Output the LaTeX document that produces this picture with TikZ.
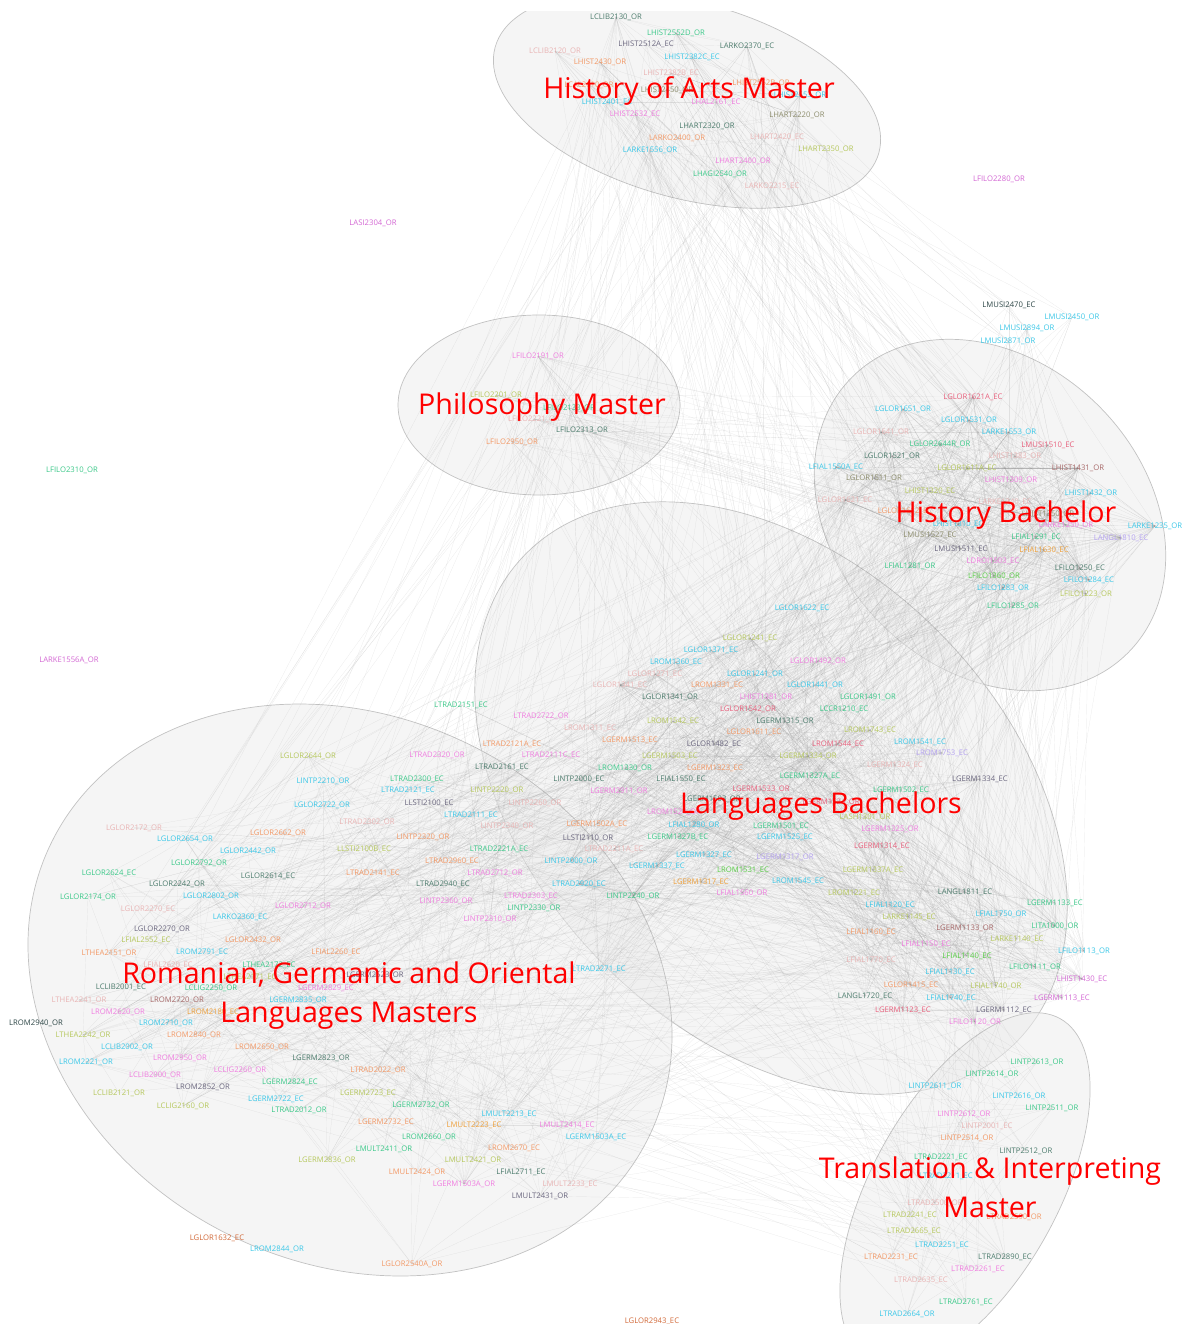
\documentclass[tikz,border=0pt]{standalone}
\usepackage{fontspec}
\newfontfamily\labfont{Open Sans}
\newfontfamily\ttlfont{Open Sans}
\pgfdeclarelayer{ell}
\pgfdeclarelayer{edges}
\pgfdeclarelayer{titles}
\pgfsetlayers{ell,edges,main,titles}
\definecolor{cA}{HTML}{4E7D6E}
\definecolor{cG}{HTML}{3DC98A}
\definecolor{cS}{HTML}{6C6880}
\definecolor{cR}{HTML}{E9B5B5}
\definecolor{cO}{HTML}{F39A68}
\definecolor{cC}{HTML}{3CC8E8}
\definecolor{cP}{HTML}{F07FE0}
\definecolor{cV}{HTML}{8E8E6E}
\definecolor{cY}{HTML}{B6C85E}
\definecolor{cL}{HTML}{B6A4F2}
\definecolor{cE}{HTML}{E8627E}
\definecolor{cB}{HTML}{A86A6A}
\definecolor{cK}{HTML}{5CCF4A}
\definecolor{cD}{HTML}{2F4848}
\definecolor{cM}{HTML}{D468D4}
\definecolor{cQ}{HTML}{D26A3A}
\definecolor{cT}{HTML}{EFA23E}
\tikzset{
  lab/.style={font=\fontsize{7.7}{8}\labfont, inner sep=0pt},
  grp/.style={draw=black!24, fill=black!7, fill opacity=0.5, line width=0.7pt},
  lnk/.style={draw=black!45, line width=0.18pt, draw opacity=0.2},
  ttl/.style={font=\fontsize{28.6}{39}\ttlfont, text=red, inner sep=0pt, align=center}
}
\newcommand\placenodes[2]{%
  \foreach [count=\i] \px/\py/\col/\nm/\sx in {#2} {
    \node[lab, text=c\col] (#1\i) at (\px,\py) {\nm\_\sx};
    \xdef\lastcount{\i}
  }%
  \expandafter\xdef\csname n#1\endcsname{\lastcount}}
\newcommand\randedges[3]{%
  \edef\cntA{\csname n#1\endcsname}%
  \edef\cntB{\csname n#2\endcsname}%
  \foreach \k in {1,...,#3}{
    \pgfmathtruncatemacro\ea{random(1,\cntA)}
    \pgfmathtruncatemacro\eb{random(1,\cntB)}
    \draw[lnk] (#1\ea.center) -- (#2\eb.center);
  }}
\begin{document}
\begin{tikzpicture}[x=1pt,y=-1pt]
\useasboundingbox (0,0) rectangle (1182,1324);
\begin{pgfonlayer}{ell}
  \fill[white] (0,0) rectangle (1182,1324);
  \begin{scope}
    \clip (0,12) rectangle (1182,1324);
    \draw[grp, rotate around={-15.4:(687,100)}] (687,100) ellipse [x radius=199, y radius=98];
    \draw[grp] (539,405) ellipse [x radius=141, y radius=90];
    \draw[grp, rotate around={-45:(990,515)}] (990,515) ellipse [x radius=195, y radius=154];
    \draw[grp, rotate around={-45:(771,798)}] (771,798) ellipse [x radius=346, y radius=236];
    \draw[grp, rotate around={-26.5:(350,990)}] (350,990) ellipse [x radius=333, y radius=273];
    \draw[grp, rotate around={61:(965,1190)}] (965,1190) ellipse [x radius=196, y radius=93];
  \end{scope}
\end{pgfonlayer}

% History of Arts Master
\placenodes{a}{616/17/A/LCLIB2130/OR, 676/33/G/LHIST2552D/OR, 646/44/S/LHIST2512A/EC, 747/46/A/LARKO2370/EC,
555/51/R/LCLIB2120/OR, 692/57/C/LHIST2382C/EC, 600/62/O/LHIST2430/OR, 671/73/R/LHIST2382B/EC,
761/83/O/LHIST2552B/OR, 589/85/O/LCAL2610/OR, 667/90/V/LHIST2450/OR, 607/102/C/LHIST2401/EC,
716/102/P/LHAL2161/EC, 800/95/C/LHIST2553/OR, 635/114/P/LHIST2532/EC, 797/115/V/LHART2220/OR,
707/126/A/LHART2320/OR, 777/137/R/LHART2420/EC, 677/138/O/LARKO2400/OR, 826/149/Y/LHART2350/OR,
650/150/C/LARKE1556/OR, 743/161/P/LHART2400/OR, 720/174/G/LHAGI2540/OR, 772/186/R/LARKO2215/EC}

% Music
\placenodes{m}{1009/305/D/LMUSI2470/EC, 1072/317/C/LMUSI2450/OR, 1027/328/C/LMUSI2894/OR, 1008/341/C/LMUSI2871/OR}

% Philosophy
\placenodes{p}{538/356/P/LFILO2191/OR, 496/395/Y/LFILO2201/OR, 569/408/G/LFILO2133/OR,
534/419/R/LFILO2221/OR, 582/430/A/LFILO2313/OR, 512/442/O/LFILO2950/OR}

% isolated
\placenodes{z}{999/179/M/LFILO2280/OR, 373/223/M/LASI2304/OR, 72/470/G/LFILO2310/OR, 69/660/M/LARKE1556A/OR,
217/1238/Q/LGLOR1632/EC, 277/1249/C/LROM2844/OR, 652/1321/Q/LGLOR2943/EC, 36/1023/D/LROM2940/OR}

% History Bachelor
\placenodes{h}{973/397/E/LGLOR1621A/EC, 903/409/C/LGLOR1651/OR, 969/420/C/LGLOR1531/OR, 1009/432/C/LARKE1553/OR,
881/432/R/LGLOR1641/OR, 940/444/G/LGLOR2644R/OR, 1048/445/E/LMUSI1510/EC, 1015/456/R/LHIST1383/OR,
892/456/A/LGLOR1521/OR, 836/467/C/LFIAL1550A/EC, 967/468/Y/LGLOR1611A/EC, 1078/468/B/LHIST1431/OR,
874/478/V/LGLOR1511/OR, 1011/480/P/LHIST1309/OR, 930/491/Y/LHIST1320/EC, 1091/493/C/LHIST1432/OR,
845/500/R/LGLOR1621/EC, 1005/502/R/LARKE1340/EC, 905/511/O/LGLOR1612/EC, 1048/514/V/LHIST1350/OR,
958/524/C/LHIST1310/EC, 1066/525/P/LARKE1250/OR, 1155/526/C/LARKE1235/OR, 930/535/V/LMUSI1527/EC,
1036/537/G/LFIAL1291/EC, 1121/538/L/LANGL1810/EC, 961/549/S/LMUSI1511/EC, 1044/550/T/LFIAL1630/EC,
993/561/P/LDROI1503/EC, 910/566/G/LFIAL1281/OR, 1080/568/A/LFILO1250/EC, 994/576/K/LFILO1360/OR,
1089/580/C/LFILO1284/EC, 1003/588/C/LFILO1283/OR, 1086/594/Y/LFILO1223/OR, 1013/606/G/LFILO1285/OR}

% Languages Bachelors
\placenodes{l}{802/608/C/LGLOR1622/EC, 750/638/Y/LGLOR1241/EC, 711/650/C/LGLOR1371/EC, 676/662/C/LROM1360/EC,
818/661/P/LGLOR1492/OR, 655/674/R/LGLOR1271/EC, 755/674/C/LGLOR1241/OR, 620/685/R/LGLOR1341/EC,
717/685/O/LROM1331/EC, 815/685/C/LGLOR1441/OR, 670/697/A/LGLOR1341/OR, 766/697/P/LHIST1381/OR,
868/697/G/LGLOR1491/OR, 748/709/E/LGLOR1542/OR, 844/709/G/LCCR1210/EC, 673/721/Y/LROM1542/EC,
785/721/A/LGERM1315/OR, 590/728/R/LROM1311/EC, 870/730/Y/LROM1743/EC, 754/732/O/LGLOR1611/EC,
630/740/O/LGERM1513/EC, 838/744/E/LROM1544/EC, 920/742/C/LROM1541/EC, 714/744/S/LGLOR1482/EC,
551/755/P/LTRAD2111C/EC, 670/756/Y/LGERM1503/EC, 942/753/L/LROM1753/EC, 808/756/Y/LGERM1334/OR,
625/768/G/LROM1330/OR, 715/768/O/LGERM1323/EC, 895/765/R/LGERM1324/EC, 579/779/A/LINTP2000/EC,
681/779/A/LFIAL1550/EC, 810/776/G/LGERM1327A/EC, 980/779/S/LGERM1334/EC, 619/791/P/LGERM2911/OR,
761/789/E/LGERM1533/OR, 901/790/G/LGERM1502/EC, 712/799/A/LGERM1503/OR, 831/802/E/LGERM1524/OR,
674/812/P/LROM1524/OR, 865/817/Y/LASH1301/OR, 597/824/O/LGERM1502A/EC, 694/825/C/LFIAL1280/OR,
781/826/G/LGERM1501/EC, 890/829/P/LGERM1325/OR, 588/838/S/LLSTI2110/OR, 678/837/G/LGERM1327B/EC,
785/837/C/LGERM1525/EC, 882/846/E/LGERM1314/EC, 614/849/R/LTRAD2211A/EC, 571/861/C/LINTP2000/OR,
704/855/C/LGERM1327/EC, 785/857/L/LGERM1317/OR, 657/866/C/LGERM1337/EC, 743/870/K/LROM1531/EC,
873/870/Y/LGERM1337A/EC, 579/884/C/LTRAD2920/EC, 701/882/T/LGERM1317/EC, 798/881/C/LROM1545/EC,
742/893/P/LFIAL1560/OR, 854/893/Y/LROM1221/EC, 965/892/A/LANGL1811/EC, 633/896/G/LINTP2240/OR,
890/905/C/LFIAL1120/EC, 1055/903/G/LGERM1133/EC, 909/917/Y/LARKE1145/EC, 1001/914/C/LFIAL1750/OR,
1055/926/G/LITA1000/OR, 871/932/O/LFIAL1160/EC, 965/928/B/LGERM1133/OR, 1017/939/Y/LARKE1140/EC,
926/944/P/LFIAL1150/EC, 1084/951/C/LFILO1113/OR, 967/956/K/LFIAL1140/EC, 871/960/R/LFIAL1770/EC,
1035/967/G/LFILO1111/OR, 950/972/C/LFIAL1130/EC, 1082/979/M/LHIST1430/EC, 911/985/O/LGLOR1415/EC,
996/986/Y/LFIAL1740/OR, 865/996/A/LANGL1720/EC, 951/998/C/LFIAL1740/EC, 1062/998/M/LGERM1113/EC,
903/1010/E/LGERM1123/EC, 1004/1010/S/LGERM1112/EC, 975/1022/P/LFILO1120/OR, 599/969/C/LTRAD2271/EC}

% Romanian, Germanic and Oriental Languages Masters
\placenodes{r}{461/705/G/LTRAD2151/EC, 541/716/P/LTRAD2722/OR, 512/744/O/LTRAD2121A/EC, 437/755/P/LTRAD2320/OR,
502/767/A/LTRAD2161/EC, 308/756/Y/LGLOR2644/OR, 323/781/C/LINTP2210/OR, 417/779/G/LTRAD2300/EC,
408/790/C/LTRAD2121/EC, 497/790/Y/LINTP2220/OR, 322/805/C/LGLOR2722/OR, 429/803/S/LLSTI2100/EC,
535/803/R/LINTP2260/OR, 471/815/C/LTRAD2111/EC, 367/822/R/LTRAD2302/OR, 507/826/R/LINTP2340/OR,
134/828/R/LGLOR2172/OR, 278/833/O/LGLOR2662/OR, 185/839/C/LGLOR2654/OR, 423/837/O/LINTP2320/OR,
364/849/Y/LLSTI2100B/EC, 248/851/C/LGLOR2442/OR, 499/849/G/LTRAD2221A/EC, 199/863/G/LGLOR2792/OR,
452/861/O/LTRAD2960/EC, 109/873/G/LGLOR2624/EC, 268/876/A/LGLOR2614/EC, 373/873/O/LTRAD2141/EC,
495/873/P/LTRAD2712/OR, 177/884/A/LGLOR2242/OR, 443/884/A/LTRAD2940/EC, 88/897/G/LGLOR2174/OR,
211/896/C/LGLOR2802/OR, 531/896/P/LTRAD2303/EC, 446/901/P/LINTP2360/OR, 303/906/P/LGLOR2712/OR,
534/908/G/LINTP2330/OR, 148/909/R/LGLOR2270/EC, 240/917/C/LARKO2360/EC, 490/919/P/LINTP2310/OR,
162/929/S/LGLOR2270/OR, 146/940/Y/LFIAL2552/EC, 253/940/O/LGLOR2432/OR, 109/953/O/LTHEA2151/OR,
202/952/C/LROM2791/EC, 336/952/O/LFIAL2260/EC, 168/965/R/LFIAL2620/EC, 269/965/G/LTHEA2172/EC,
250/977/Y/LTHEA2171/EC, 375/975/S/LGERM2523/OR, 121/987/A/LCLIB2001/EC, 211/988/G/LCLIG2250/OR,
326/988/P/LGERM2829/EC, 79/1000/R/LTHEA2241/OR, 177/1000/B/LROM2720/OR, 298/1000/C/LGERM2835/OR,
118/1012/P/LROM2620/OR, 213/1012/T/LROM2180/EC, 166/1023/C/LROM2710/OR, 83/1035/Y/LTHEA2242/OR,
194/1035/O/LROM2840/OR, 127/1047/C/LCLIB2002/OR, 262/1047/O/LROM2650/OR, 86/1062/C/LROM2221/OR,
180/1058/P/LROM2950/OR, 321/1058/A/LGERM2823/OR, 378/1070/O/LTRAD2022/OR, 155/1075/P/LCLIB2000/OR,
240/1070/P/LCLIG2260/OR, 290/1082/G/LGERM2824/EC, 203/1087/S/LROM2852/OR, 119/1093/Y/LCLIB2121/OR,
368/1093/Y/LGERM2723/EC, 276/1099/C/LGERM2722/EC, 183/1106/Y/LCLIG2160/OR, 299/1110/G/LTRAD2012/OR,
421/1105/G/LGERM2732/OR, 386/1122/O/LGERM2732/EC, 509/1114/C/LMULT2213/EC, 474/1125/T/LMULT2223/EC,
567/1125/P/LMULT2414/EC, 429/1137/G/LROM2660/OR, 596/1137/C/LGERM1503A/EC, 384/1149/G/LMULT2411/OR,
514/1148/O/LROM2670/EC, 327/1160/Y/LGERM2836/OR, 473/1160/Y/LMULT2421/OR, 521/1172/A/LFIAL2711/EC,
417/1172/O/LMULT2424/OR, 464/1184/P/LGERM1503A/OR, 570/1184/R/LMULT2233/EC, 540/1196/S/LMULT2431/OR,
412/1264/O/LGLOR2540A/OR}

% Translation & Interpreting Master
\placenodes{t}{1037/1062/G/LINTP2613/OR, 992/1074/G/LINTP2614/OR, 935/1086/C/LINTP2611/OR, 1019/1096/C/LINTP2616/OR,
1052/1108/G/LINTP2511/OR, 964/1114/P/LINTP2612/OR, 987/1126/R/LINTP2001/EC, 967/1138/O/LINTP2514/OR,
1026/1151/A/LINTP2512/OR, 941/1157/G/LTRAD2221/EC, 946/1176/C/LTRAD2211/EC, 935/1203/R/LTRAD2500/OR,
910/1215/Y/LTRAD2241/EC, 1014/1217/O/LTRAD2590/OR, 914/1231/Y/LTRAD2665/EC, 942/1245/C/LTRAD2251/EC,
891/1257/O/LTRAD2231/EC, 1005/1257/A/LTRAD2890/EC, 978/1269/P/LTRAD2261/EC, 921/1280/R/LTRAD2635/EC,
966/1302/G/LTRAD2761/EC, 907/1314/C/LTRAD2664/OR}

\begin{pgfonlayer}{edges}
  \pgfmathsetseed{4242}
  \randedges{h}{h}{380}
  \randedges{l}{l}{650}
  \randedges{h}{l}{320}
  \randedges{a}{a}{70}
  \randedges{a}{l}{70}
  \randedges{a}{h}{60}
  \randedges{a}{r}{55}
  \randedges{p}{p}{15}
  \randedges{p}{h}{40}
  \randedges{p}{l}{30}
  \randedges{m}{h}{30}
  \randedges{m}{a}{10}
  \randedges{r}{r}{220}
  \randedges{r}{l}{260}
  \randedges{r}{h}{50}
  \randedges{t}{t}{40}
  \randedges{t}{l}{55}
  \randedges{t}{r}{45}
\end{pgfonlayer}

\begin{pgfonlayer}{titles}
  \node[ttl] (title1) at (689,91) {History of Arts Master};
  \node[ttl] (title2) at (542,407) {Philosophy Master};
  \node[ttl] (title3) at (1006,515) {History Bachelor};
  \node[ttl] (title4) at (821,806) {Languages Bachelors};
  \node[ttl] (title5) at (349,996) {Romanian, Germanic and Oriental\\Languages Masters};
  \node[ttl] (title6) at (990,1187) {Translation \& Interpreting\\Master};
\end{pgfonlayer}
\end{tikzpicture}
\end{document}
